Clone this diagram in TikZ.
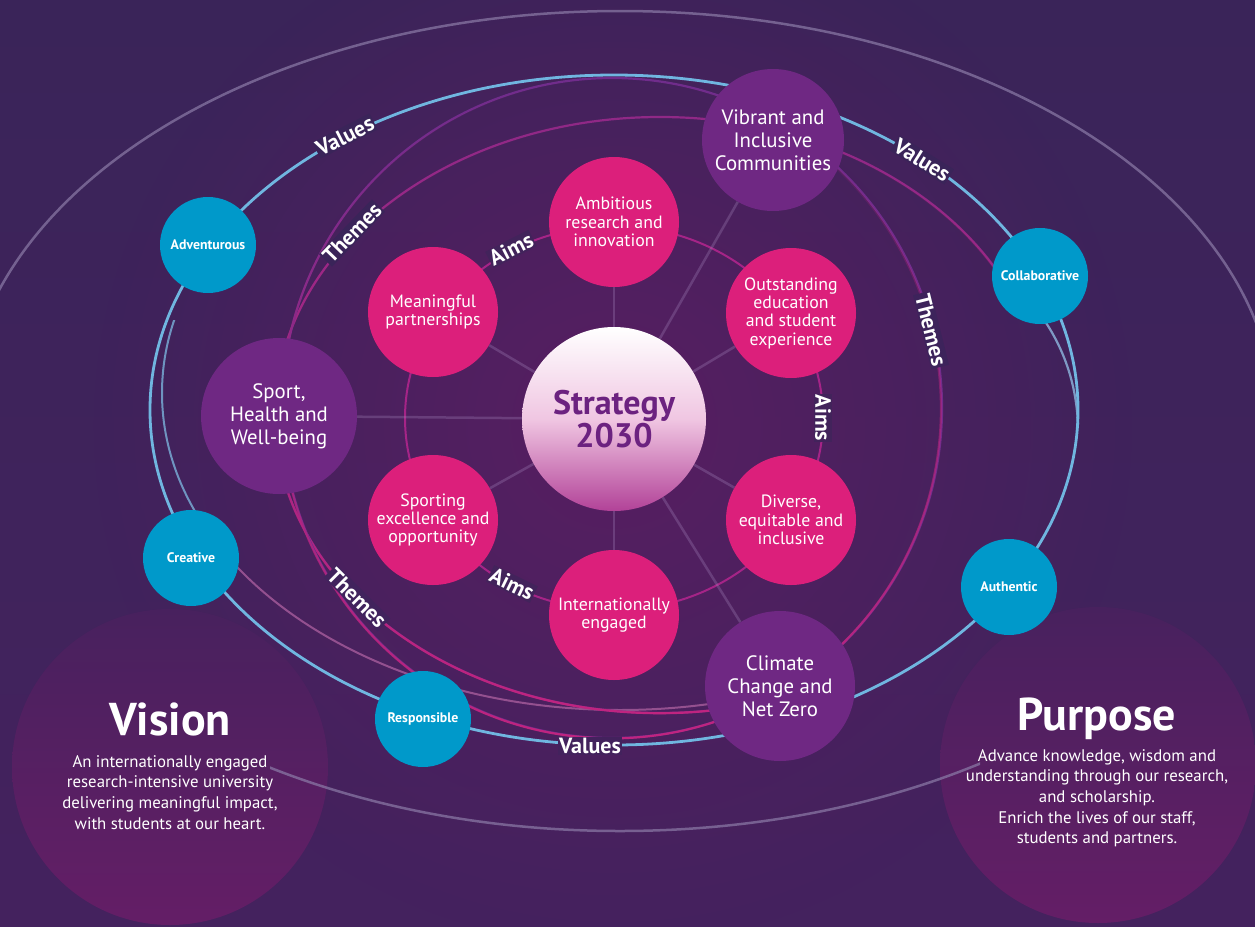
\documentclass[tikz,border=0pt]{standalone}
\usepackage{fontspec}
\setmainfont{PT Sans}
\usetikzlibrary{fadings}
\definecolor{bgtop}{RGB}{58,36,89}
\definecolor{bgbot}{RGB}{68,34,94}
\definecolor{glow}{RGB}{88,30,98}
\definecolor{vistop}{RGB}{72,33,94}
\definecolor{visbot}{RGB}{100,30,102}
\definecolor{pinkc}{RGB}{220,31,123}
\definecolor{themec}{RGB}{111,40,131}
\definecolor{valc}{RGB}{0,153,202}
\definecolor{blueline}{RGB}{112,182,224}
\definecolor{magline}{RGB}{192,36,128}
\definecolor{purline}{RGB}{112,45,140}
\definecolor{lavline}{RGB}{140,124,168}
\definecolor{stratc}{RGB}{108,34,128}
\definecolor{stratmid}{RGB}{240,198,226}
\definecolor{stratbot}{RGB}{178,66,152}
\definecolor{spokec}{RGB}{165,135,190}
\definecolor{aimring}{RGB}{165,36,135}
\tikzfading[name=fadetop, top color=transparent!100, bottom color=transparent!0]
\tikzfading[name=glowfade, inner color=transparent!0, outer color=transparent!100]
\pgfdeclarelayer{back}
\pgfdeclarelayer{mid}
\pgfsetlayers{back,mid,main}
\tikzset{
  aimnode/.style={circle, fill=pinkc, minimum size=130pt, inner sep=0pt, text=white, align=center, font=\fontsize{17.8}{18.3}\selectfont},
  themenode/.style={circle, fill=themec, inner sep=0pt, text=white, align=center, font=\fontsize{20.8}{22.8}\selectfont},
  valnode/.style={circle, fill=valc, minimum size=96pt, inner sep=0pt, text=white, font=\bfseries\fontsize{13.8}{15}\selectfont},
  ringlbl/.style={text=white, font=\bfseries\fontsize{22}{24}\selectfont, inner sep=1.2pt},
  spoke/.style={draw=spokec, line width=2.5pt, opacity=0.3},
  bigcirc/.style={circle, minimum size=316pt, inner sep=0pt, top color=vistop, bottom color=visbot},
  titletext/.style={text=white, font=\bfseries\fontsize{46}{50}\selectfont, anchor=base},
  paratext/.style={text=white, font=\fontsize{16.8}{20.7}\selectfont, align=center, anchor=north, inner sep=0pt}
}
\begin{document}
\begin{tikzpicture}[x=1pt,y=-1pt]
\useasboundingbox (0,0) rectangle (1255,926);
\begin{pgfonlayer}{back}
  \shade[top color=bgtop, bottom color=bgbot] (0,0) rectangle (1255,926);
  \fill[glow, path fading=glowfade] (614,425) circle [radius=520pt];
  \node[bigcirc] (vision) at (170,767) {};
  \node[bigcirc] (purpose) at (1098,765) {};
  % outer faint orbit
  \begin{scope}
    \clip (0,0) rectangle (1255,450) (270,450) rectangle (980,926);
    \draw[lavline, line width=2.5pt, opacity=0.7] (620,421) ellipse [x radius=655pt, y radius=410pt];
  \end{scope}
  % second values orbit
  \begin{scope}
    \clip (0,320) rectangle (830,565);
    \draw[blueline!75!lavline, line width=2pt, opacity=0.85] (620,393) ellipse [x radius=458pt, y radius=317pt];
  \end{scope}
  \begin{scope}
    \clip (0,565) rectangle (830,926);
    \draw[lavline!60!magline, line width=2pt, opacity=0.85] (620,393) ellipse [x radius=458pt, y radius=317pt];
  \end{scope}
  % themes orbit 1
  \begin{scope}
    \clip (0,0) rectangle (1000,560) (0,560) rectangle (840,926);
    \draw[purline!60!magline, line width=2.2pt] (660,415) ellipse [x radius=385pt, y radius=298pt];
    \draw[magline, line width=2.2pt, path fading=fadetop] (660,415) ellipse [x radius=385pt, y radius=298pt];
  \end{scope}
  \draw[lavline!50!blueline, line width=2.2pt] (1020,290) .. controls (1058,330) and (1076,375) .. (1078,425);
  % themes orbit 2
  \draw[purline, line width=2.2pt] (612,408) circle [radius=330pt];
  \draw[magline, line width=2.2pt, path fading=fadetop] (612,408) circle [radius=330pt];
  % values orbit
  \draw[blueline, line width=2.8pt] (614,410) ellipse [x radius=464pt, y radius=335pt];
  % aims orbit
  \draw[aimring, line width=2pt] (614,418) ellipse [x radius=209pt, y radius=192pt];
\end{pgfonlayer}

% centre
\node[circle, minimum size=184pt, inner sep=0pt, top color=white, bottom color=stratbot, middle color=stratmid,
      text=stratc, align=center, font=\bfseries\fontsize{34}{33}\selectfont] (strat) at (614,419) {Strategy\\2030};

% aims
\node[aimnode] (amb) at (614,222) {Ambitious\\research and\\innovation};
\node[aimnode] (out) at (791,313) {Outstanding\\education\\and student\\experience};
\node[aimnode] (div) at (791,520) {Diverse,\\equitable and\\inclusive};
\node[aimnode] (intl) at (614,615) {Internationally\\engaged};
\node[aimnode] (sporting) at (433,520) {Sporting\\excellence and\\opportunity};
\node[aimnode] (mean) at (433,312) {Meaningful\\partnerships};

% themes
\node[themenode, minimum size=142pt] (vib) at (773,140) {Vibrant and\\Inclusive\\Communities};
\node[themenode, minimum size=156pt] (sport) at (279,416) {Sport,\\Health and\\Well-being};
\node[themenode, minimum size=150pt] (clim) at (780,686) {Climate\\Change and\\Net Zero};

% values
\node[valnode] (adv) at (208,245) {Adventurous};
\node[valnode] (col) at (1040,276) {Collaborative};
\node[valnode] (auth) at (1009,587) {Authentic};
\node[valnode] (resp) at (423,719) {Responsible};
\node[valnode] (creat) at (191,558) {Creative};

% spokes
\begin{pgfonlayer}{mid}
  \foreach \t in {amb,out,div,intl,sporting,mean,sport,vib,clim}
    \draw[spoke] (strat) -- (\t);
\end{pgfonlayer}

% ring labels
\node[ringlbl, fill=bgtop, rotate=27] (vl1) at (345,136) {Values};
\node[ringlbl, fill=bgtop, rotate=-32] (vl2) at (922,160) {Values};
\node[ringlbl, fill=bgbot!85!bgtop] (vl3) at (590,746) {Values};
\node[ringlbl, fill=bgtop, rotate=46] (th1) at (352,233) {Themes};
\node[ringlbl, fill=bgtop!70!bgbot, rotate=-76] (th2) at (931,330) {Themes};
\node[ringlbl, fill=bgbot!70!bgtop, rotate=-45] (th3) at (357,598) {Themes};
\node[ringlbl, fill=glow!25!bgtop, rotate=27] (ai1) at (511,249) {Aims};
\node[ringlbl, fill=glow!25!bgtop, rotate=-90] (ai2) at (823,418) {Aims};
\node[ringlbl, fill=glow!25!bgtop, rotate=-26] (ai3) at (512,584) {Aims};

% vision & purpose
\node[titletext] (vist) at (170,735) {Vision};
\node[paratext] (visp) at (170,755) {An internationally engaged\\research-intensive university\\delivering meaningful impact,\\with students at our heart.};
\node[titletext] (purt) at (1097,730) {Purpose};
\node[paratext] (purp) at (1097,749) {Advance knowledge, wisdom and\\understanding through our research,\\and scholarship.\\Enrich the lives of our staff,\\students and partners.};
\end{tikzpicture}
\end{document}
